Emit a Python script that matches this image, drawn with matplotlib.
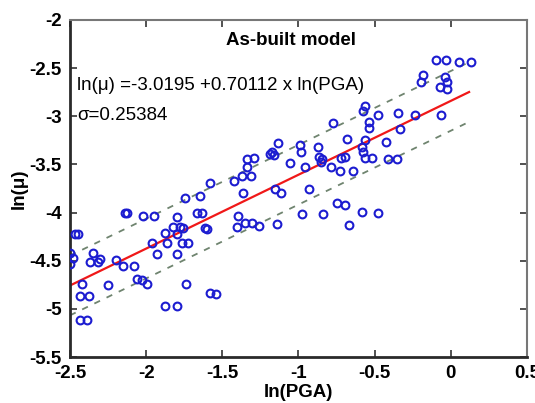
import matplotlib
matplotlib.use("Agg")
import matplotlib.pyplot as plt
import numpy as np
from matplotlib.ticker import FormatStrFormatter

plt.rcParams['font.family'] = ['Liberation Sans', 'DejaVu Sans']
plt.rcParams['axes.unicode_minus'] = False

# Data
ln_pga = [-2.467, -2.447, -2.50, -2.48, -2.50, -2.349, -2.369, -2.316, -2.303, -2.421,
          -2.434, -2.375, -2.434, -2.388, -2.25, -2.198, -2.152, -2.08, -2.06, -2.027,
          -1.994, -2.139, -2.126, -2.021, -1.948, -1.962, -1.929, -1.876, -1.863, -1.824,
          -1.797, -1.778, -1.797, -1.758, -1.765, -1.725, -1.797, -1.738, -1.876, -1.797,
          -1.666, -1.633, -1.614, -1.60, -1.581, -1.541, -1.397, -1.403, -1.351, -1.305,
          -1.259, -1.581, -1.745, -1.646, -1.423, -1.371, -1.312, -1.364, -1.338, -1.292,
          -1.338, -1.187, -1.154, -1.115, -0.931, -0.977, -0.839, -1.141, -0.747, -0.694,
          -0.668, -0.583, -0.478, -1.055, -0.957, -0.852, -0.786, -1.134, -1.174, -1.161,
          -0.99, -0.983, -0.872, -0.865, -0.845, -0.721, -0.694, -0.727, -0.642, -0.773,
          -0.681, -0.563, -0.583, -0.576, -0.425, -0.563, -0.517, -0.412, -0.353, -0.563,
          -0.576, -0.537, -0.537, -0.478, -0.346, -0.235, -0.333, -0.064, -0.097, -0.031,
          0.054, 0.133, -0.182, -0.195, -0.038, -0.025, -0.071, -0.025]
ln_mu = [-4.219, -4.219, -4.417, -4.469, -4.531, -4.417, -4.51, -4.51, -4.479, -4.74,
         -4.865, -4.865, -5.115, -5.115, -4.75, -4.49, -4.552, -4.552, -4.688, -4.698,
         -4.74, -4.0, -4.0, -4.031, -4.031, -4.313, -4.427, -4.208, -4.313, -4.146,
         -4.042, -4.146, -4.219, -4.156, -4.313, -4.313, -4.427, -4.74, -4.969, -4.969,
         -4.0, -4.0, -4.156, -4.167, -4.833, -4.844, -4.031, -4.146, -4.104, -4.104,
         -4.135, -3.688, -3.844, -3.833, -3.667, -3.625, -3.625, -3.792, -3.448, -3.438,
         -3.531, -3.396, -3.76, -3.792, -3.75, -4.01, -4.01, -4.115, -3.896, -3.917,
         -4.125, -3.99, -4.0, -3.49, -3.531, -3.479, -3.531, -3.281, -3.375, -3.406,
         -3.302, -3.375, -3.323, -3.427, -3.448, -3.438, -3.427, -3.573, -3.573, -3.073,
         -3.24, -3.25, -3.323, -3.375, -3.271, -3.438, -3.438, -3.448, -3.448, -2.896,
         -2.948, -3.063, -3.125, -2.99, -2.969, -2.99, -3.135, -2.99, -2.417, -2.417,
         -2.438, -2.438, -2.573, -2.646, -2.594, -2.646, -2.698, -2.719]

fit_intercept = -2.84
fit_slope = 0.767
band_offset = 0.31
fit_x_range = [-2.5, 0.12]

x_ticks = [-2.5, -2, -1.5, -1, -0.5, 0, 0.5]
y_ticks = [-5.5, -5, -4.5, -4, -3.5, -3, -2.5, -2]

fig = plt.figure(figsize=(5.35, 4.03), dpi=100)
ax = fig.add_axes([0.1308, 0.1141, 0.8542, 0.8363])

ax.plot(ln_pga, ln_mu, linestyle='none', marker='o', markersize=5.6,
        markerfacecolor='none', markeredgecolor='#1c1cd0', markeredgewidth=1.5, zorder=3)

xf = np.array(fit_x_range)
yf = fit_intercept + fit_slope * xf
ax.plot(xf, yf, color='#f01818', lw=1.6, zorder=2)
for s in (1, -1):
    ln, = ax.plot(xf, yf + s * band_offset, color='#6f846f', lw=1.3, zorder=2)
    ln.set_dashes((3.5, 4.0))

ax.set_xlim(-2.5, 0.5)
ax.set_ylim(-5.5, -2)
ax.set_xticks(x_ticks)
ax.set_yticks(y_ticks)
ax.xaxis.set_major_formatter(FormatStrFormatter('%g'))
ax.yaxis.set_major_formatter(FormatStrFormatter('%g'))
ax.tick_params(direction='in', length=5, width=1.2, top=True, right=True,
               labelsize=13.5, color='#333333')
ax.tick_params(axis='x', pad=6)
ax.tick_params(axis='y', pad=6)
for lab in ax.get_xticklabels() + ax.get_yticklabels():
    lab.set_fontweight('bold')

for side in ('left', 'bottom'):
    ax.spines[side].set_linewidth(2.0)
    ax.spines[side].set_color('#2a2a2a')
for side in ('top', 'right'):
    ax.spines[side].set_linewidth(1.5)
    ax.spines[side].set_color('#777777')

ax.set_xlabel('ln(PGA)', fontsize=13.5, fontweight='bold', labelpad=1)
ax.set_ylabel('ln(\u03bc)', fontsize=13.5, fontweight='bold', labelpad=1)

ax.text(-1.05, -2.21, 'As-built model', fontsize=13.5, fontweight='bold',
        ha='center', va='center')
ax.text(-2.455, -2.68, 'ln(\u03bc) =-3.0195 +0.70112 x ln(PGA)', fontsize=13.5,
        ha='left', va='center')
ax.text(-2.455, -2.99, '\u03c3=0.25384', fontsize=13.5, ha='left', va='center')

fig.savefig('out.png', dpi=100)
